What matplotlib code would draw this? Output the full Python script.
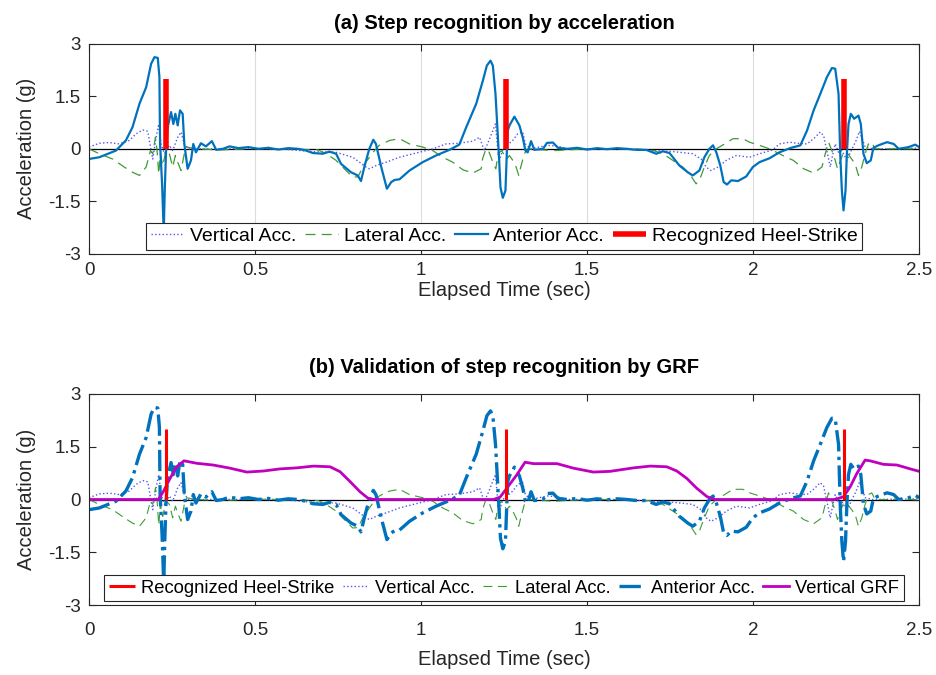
import matplotlib

matplotlib.use("Agg")
import matplotlib.pyplot as plt

plt.rcParams["font.family"] = ["Liberation Sans", "DejaVu Sans"]

# heel-strike instants (sec) and bar height (g)
heel_t = [0.231, 1.255, 2.272]
heel_h = 2.0

# anterior acceleration (g)
ant_t = [0, 0.031, 0.081, 0.111, 0.131, 0.152, 0.172, 0.187, 0.197, 0.207,
         0.212, 0.214, 0.220, 0.225, 0.228, 0.232, 0.237, 0.247, 0.254, 0.260,
         0.267, 0.274, 0.282, 0.287, 0.297, 0.307, 0.314, 0.322, 0.337, 0.352,
         0.370, 0.383, 0.403, 0.423, 0.450, 0.480, 0.510, 0.540, 0.570, 0.600,
         0.630, 0.654, 0.674, 0.704, 0.724, 0.744, 0.759, 0.789, 0.809, 0.819,
         0.829, 0.844, 0.856, 0.864, 0.880, 0.897, 0.910, 0.920, 0.935, 0.965,
         1.005, 1.045, 1.085, 1.115, 1.136, 1.166, 1.186, 1.198, 1.209, 1.216,
         1.224, 1.234, 1.239, 1.246, 1.254, 1.258, 1.261, 1.266, 1.281, 1.296,
         1.306, 1.314, 1.321, 1.331, 1.341, 1.367, 1.379, 1.397, 1.412, 1.440,
         1.470, 1.500, 1.530, 1.560, 1.590, 1.620, 1.650, 1.678, 1.708, 1.728,
         1.748, 1.778, 1.803, 1.818, 1.838, 1.853, 1.868, 1.879, 1.889, 1.901,
         1.911, 1.921, 1.934, 1.954, 1.979, 1.999, 2.019, 2.049, 2.079, 2.111,
         2.142, 2.162, 2.182, 2.202, 2.222, 2.237, 2.247, 2.257, 2.262, 2.267,
         2.272, 2.278, 2.282, 2.287, 2.294, 2.304, 2.317, 2.324, 2.332, 2.342,
         2.354, 2.362, 2.377, 2.403, 2.423, 2.438, 2.468, 2.488, 2.500]
ant_v = [-0.29, -0.24, -0.05, 0.24, 0.62, 1.29, 1.76, 2.43, 2.62, 2.60,
         2.05, 0.14, -1.00, -2.40, -1.20, -0.05, 0.62, 1.05, 0.71, 1.00,
         0.67, 1.10, 1.00, 0.14, -0.57, -0.33, 0.14, -0.10, 0.16, 0.07,
         0.22, -0.03, 0.00, 0.07, 0.02, 0.05, 0.00, 0.03, -0.02, 0.02,
         0.00, -0.05, -0.12, -0.14, -0.08, -0.14, -0.43, -0.67, -0.76, -0.92,
         -0.52, 0.00, 0.26, 0.14, -0.52, -1.14, -0.95, -0.89, -0.87, -0.62,
         -0.38, -0.19, -0.03, 0.12, 0.62, 1.29, 1.95, 2.38, 2.52, 2.38,
         1.57, -0.14, -1.10, -1.40, -1.19, -0.14, 0.52, 0.67, 0.92, 0.67,
         0.33, -0.05, -0.10, 0.22, -0.03, 0.00, 0.17, 0.18, 0.03, 0.00,
         0.03, -0.02, 0.02, -0.01, 0.02, 0.00, -0.03, -0.03, -0.14, -0.07,
         -0.12, -0.48, -0.67, -0.76, -0.62, -0.24, 0.00, 0.10, -0.10, -0.48,
         -0.95, -1.02, -0.90, -0.92, -0.79, -0.52, -0.38, -0.27, -0.10, 0.02,
         0.10, 0.52, 1.10, 1.57, 2.05, 2.31, 2.29, 1.57, -0.14, -1.19,
         -1.76, -1.19, -0.14, 0.71, 1.00, 0.86, 0.95, 0.71, -0.14, -0.41,
         -0.33, 0.03, 0.10, 0.19, 0.14, 0.00, 0.05, 0.12, 0.05]

# vertical acceleration (g)
vert_t = [0, 0.031, 0.061, 0.091, 0.121, 0.142, 0.162, 0.177, 0.187, 0.192,
          0.202, 0.210, 0.217, 0.227, 0.242, 0.252, 0.267, 0.277, 0.287, 0.300,
          0.400, 0.500, 0.600, 0.674, 0.744, 0.794, 0.834, 0.844, 0.864, 0.895,
          0.935, 0.985, 1.035, 1.075, 1.115, 1.156, 1.176, 1.190, 1.200, 1.216,
          1.224, 1.230, 1.236, 1.246, 1.276, 1.291, 1.306, 1.314, 1.330, 1.380,
          1.410, 1.440, 1.600, 1.700, 1.760, 1.818, 1.843, 1.858, 1.873, 1.894,
          1.919, 1.949, 1.989, 2.019, 2.059, 2.079, 2.109, 2.131, 2.162, 2.182,
          2.202, 2.212, 2.227, 2.232, 2.240, 2.247, 2.257, 2.267, 2.282, 2.295,
          2.310, 2.320, 2.327, 2.337, 2.360, 2.500]
vert_v = [0.05, 0.16, 0.18, 0.14, 0.24, 0.43, 0.54, 0.50, -0.05, -0.29,
          0.33, 0.71, 0.14, -0.14, 0.10, -0.05, 0.33, 0.48, 0.14, 0.00,
          0.00, 0.01, -0.02, -0.08, -0.10, -0.24, -0.52, -0.57, -0.48, -0.38,
          -0.24, -0.12, 0.00, 0.14, 0.16, 0.22, 0.33, -0.05, 0.14, 0.52,
          0.71, 0.05, -0.33, 0.00, 0.24, 0.43, 0.48, 0.14, 0.00, 0.10,
          0.08, 0.00, 0.00, -0.05, -0.08, -0.14, -0.29, -0.52, -0.62, -0.52,
          -0.33, -0.19, -0.24, -0.14, -0.03, 0.14, 0.19, 0.16, 0.14, 0.29,
          0.48, 0.38, -0.29, -0.52, -0.14, 0.14, -0.10, -0.05, -0.33, -0.05,
          0.24, 0.50, 0.33, 0.05, 0.00, 0.02]

# lateral acceleration (g)
lat_t = [0, 0.031, 0.071, 0.106, 0.131, 0.152, 0.172, 0.185, 0.192, 0.200,
         0.205, 0.210, 0.215, 0.222, 0.232, 0.242, 0.252, 0.260, 0.267, 0.277,
         0.287, 0.295, 0.320, 0.400, 0.500, 0.600, 0.690, 0.714, 0.744, 0.774,
         0.794, 0.810, 0.829, 0.840, 0.855, 0.874, 0.905, 0.935, 0.965, 1.005,
         1.035, 1.065, 1.095, 1.126, 1.156, 1.181, 1.185, 1.195, 1.205, 1.218,
         1.225, 1.232, 1.242, 1.258, 1.266, 1.276, 1.286, 1.294, 1.300, 1.311,
         1.320, 1.400, 1.500, 1.650, 1.700, 1.728, 1.758, 1.788, 1.808, 1.828,
         1.838, 1.853, 1.868, 1.889, 1.914, 1.939, 1.969, 1.989, 2.019, 2.049,
         2.079, 2.095, 2.121, 2.152, 2.182, 2.207, 2.217, 2.227, 2.237, 2.247,
         2.254, 2.262, 2.272, 2.285, 2.307, 2.317, 2.327, 2.337, 2.347, 2.357,
         2.367, 2.500]
lat_v = [0.00, -0.14, -0.29, -0.52, -0.67, -0.76, -0.52, -0.05, -0.14, 0.33,
         -0.05, -0.72, -0.14, -0.48, -0.05, -0.14, -0.52, -0.19, -0.38, -0.62,
         -0.14, 0.05, 0.00, -0.03, 0.01, 0.00, -0.03, -0.14, -0.33, -0.62,
         -0.81, -0.80, -0.43, -0.30, -0.10, 0.10, 0.24, 0.29, 0.14, 0.05,
         -0.05, -0.24, -0.38, -0.60, -0.69, -0.57, -0.29, 0.00, -0.10, -0.43,
         -0.57, -0.14, -0.05, -0.29, -0.19, -0.33, -0.52, -0.76, -0.52, -0.14,
         0.00, -0.05, 0.00, 0.00, -0.05, -0.14, -0.33, -0.52, -0.71, -1.00,
         -0.90, -0.52, -0.19, 0.00, 0.14, 0.29, 0.29, 0.19, 0.10, 0.00,
         -0.14, -0.22, -0.33, -0.57, -0.69, -0.52, -0.14, 0.19, -0.05, -0.33,
         -0.57, -0.35, -0.10, -0.14, -0.43, -0.76, -0.52, -0.14, 0.14, 0.19,
         0.00, 0.00]

# vertical ground reaction force (normalised)
grf_t = [0, 0.209, 0.224, 0.244, 0.264, 0.286, 0.324, 0.374, 0.425, 0.475,
         0.525, 0.575, 0.626, 0.676, 0.726, 0.756, 0.786, 0.816, 0.841, 0.860,
         1.218, 1.238, 1.258, 1.288, 1.313, 1.338, 1.409, 1.459, 1.519, 1.569,
         1.640, 1.690, 1.740, 1.770, 1.800, 1.830, 1.861, 1.885, 2.247, 2.272,
         2.292, 2.312, 2.337, 2.352, 2.392, 2.433, 2.473, 2.500]
grf_v = [0, 0, 0.23, 0.60, 0.93, 1.10, 1.03, 0.98, 0.89, 0.78,
         0.81, 0.87, 0.90, 0.95, 0.93, 0.79, 0.51, 0.22, 0.03, 0,
         0, 0.07, 0.32, 0.70, 1.06, 1.02, 1.02, 0.89, 0.78, 0.80,
         0.90, 0.95, 0.93, 0.81, 0.60, 0.32, 0.08, 0, 0, 0.08,
         0.36, 0.74, 1.12, 1.10, 1.00, 0.98, 0.87, 0.80]

x_ticks = [0, 0.5, 1, 1.5, 2, 2.5]
x_ticklabels = ["0", "0.5", "1", "1.5", "2", "2.5"]
y_ticks = [-3, -1.5, 0, 1.5, 3]
y_ticklabels = ["-3", "-1.5", "0", "1.5", "3"]

BLUE = "#0072BD"
VERT_C = "#5555EE"
LAT_C = "#3E9B36"
RED = "#FF0000"
MAG = "#BF00BF"
AX_C = "#262626"


def _style(ax, grid, xpad, xlabelpad):
    ax.set_xlim(0, 2.5)
    ax.set_ylim(-3, 3)
    ax.set_xticks(x_ticks)
    ax.set_xticklabels(x_ticklabels)
    ax.set_yticks(y_ticks)
    ax.set_yticklabels(y_ticklabels)
    ax.tick_params(direction="in", top=True, right=True, length=5,
                   width=0.8, labelsize=13.5, colors=AX_C)
    ax.tick_params(axis="x", pad=xpad)
    ax.tick_params(axis="y", pad=6)
    for sp in ax.spines.values():
        sp.set_color(AX_C)
        sp.set_linewidth(0.8)
    if grid:
        ax.grid(axis="x", color="#dcdcdc", linewidth=0.8)
        ax.set_axisbelow(True)
    ax.axhline(0, color="black", linewidth=0.9, zorder=1.5)
    ax.set_xlabel("Elapsed Time (sec)", fontsize=14.5, color=AX_C,
                  labelpad=xlabelpad)
    ax.set_ylabel("Acceleration (g)", fontsize=14.5, color=AX_C, labelpad=9)


def _legend(ax, ncol, size, hlen, hpad):
    leg = ax.legend(loc="lower center", bbox_to_anchor=(0.5, 0.0), ncol=ncol,
                    fontsize=size, frameon=True, fancybox=False,
                    edgecolor=AX_C, framealpha=1, borderaxespad=0.2,
                    handlelength=hlen, columnspacing=0.45, handletextpad=hpad,
                    borderpad=0.25)
    leg.get_frame().set_linewidth(0.8)
    leg.set_zorder(10)


fig = plt.figure(figsize=(9.36, 6.75), dpi=100)

# (a) step recognition
ax1 = fig.add_axes([0.0951, 0.624, 0.887, 0.311])
_style(ax1, grid=True, xpad=6, xlabelpad=1.5)
ax1.plot(vert_t, vert_v, ":", color=VERT_C, linewidth=1.0, label="Vertical Acc.")
ax1.plot(lat_t, lat_v, "--", color=LAT_C, linewidth=0.9, dashes=(8, 5), label="Lateral Acc.")
ax1.plot(ant_t, ant_v, "-", color=BLUE, linewidth=1.6, label="Anterior Acc.")
ax1.vlines(heel_t, 0, heel_h, color=RED, linewidth=4.0, label="Recognized Heel-Strike", zorder=3)
ax1.set_title("(a) Step recognition by acceleration", fontsize=14.5,
              fontweight="bold", pad=11)
_legend(ax1, 4, 14, 1.7, 0.3)

# (b) validation by GRF
ax2 = fig.add_axes([0.0951, 0.1037, 0.887, 0.3126])
_style(ax2, grid=False, xpad=12, xlabelpad=8)
ax2.vlines(heel_t, 0, heel_h, color=RED, linewidth=2.2, label="Recognized Heel-Strike", zorder=3)
ax2.plot(vert_t, vert_v, ":", color=VERT_C, linewidth=1.0, label="Vertical Acc.")
ax2.plot(lat_t, lat_v, "--", color=LAT_C, linewidth=0.8, dashes=(8, 5), label="Lateral Acc.")
ax2.plot(ant_t, ant_v, "-.", color=BLUE, linewidth=2.4, label="Anterior Acc.")
ax2.plot(grf_t, grf_v, "-", color=MAG, linewidth=2.0, label="Vertical GRF")
ax2.set_title("(b) Validation of step recognition by GRF", fontsize=14.5,
              fontweight="bold", pad=15)
_legend(ax2, 5, 13.2, 1.4, 0.35)

fig.savefig("out.png", dpi=100)
